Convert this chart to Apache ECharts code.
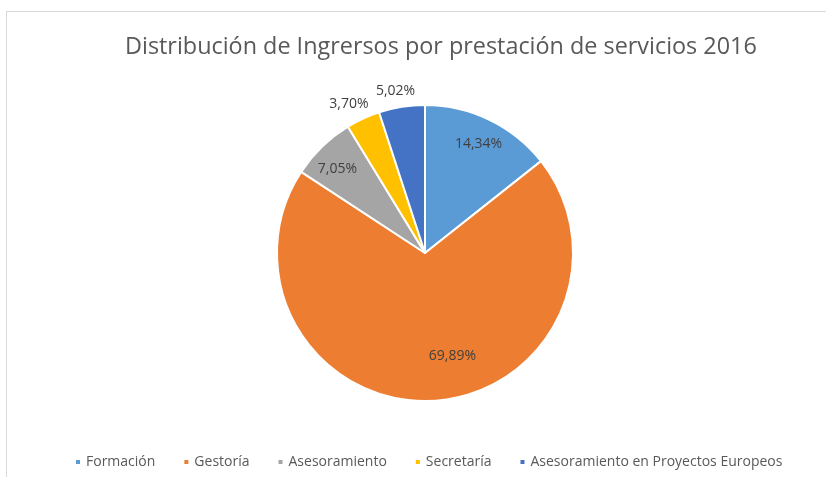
<!DOCTYPE html>
<html>
<head>
<meta charset="utf-8">
<script src="https://cdn.jsdelivr.net/npm/echarts@6/dist/echarts.min.js"></script>
<style>
  html, body { margin: 0; padding: 0; background: #fff; }
  #frame { position: absolute; left: 6px; top: 11px; width: 830px; height: 480px; border-left: 1px solid #d9d9d9; border-top: 1px solid #d9d9d9; }
  #chart { width: 826px; height: 477px; }
</style>
</head>
<body>
<div id="frame"></div>
<div id="chart"></div>
<script>
const titleText = 'Distribución de Ingrersos por prestación de servicios 2016'
const categories = ['Formación', 'Gestoría', 'Asesoramiento', 'Secretaría', 'Asesoramiento en Proyectos Europeos']
const values = [14.34, 69.89, 7.05, 3.70, 5.02]
const colors = ['#5B9BD5', '#ED7D31', '#A5A5A5', '#FFC000', '#4472C4']
const outsideLabels = ['Secretaría', 'Asesoramiento en Proyectos Europeos']
// small nudges so the labels sit where Excel's best-fit put them
const labelNudge = [[20, -40], [24, 26], [-34, -29], [15, -15], [14, -12]]

const font = 'Open Sans'
const chart = echarts.init(document.getElementById('chart'))

chart.setOption({
  animation: false,
  title: {
    text: titleText,
    left: 120,
    top: 31,
    textStyle: { fontFamily: font, fontSize: 23.4, fontWeight: 'normal', color: '#595959' }
  },
  legend: {
    bottom: 3,
    left: 69,
    itemWidth: 6,
    itemHeight: 6,
    itemGap: 27,
    icon: 'rect',
    textStyle: { fontFamily: font, fontSize: 14, color: '#595959' },
    data: categories
  },
  series: [{
    type: 'pie',
    center: [425, 253],
    radius: 148,
    startAngle: 90,
    clockwise: true,
    itemStyle: { borderColor: '#fff', borderWidth: 2 },
    label: {
      position: 'inside',
      fontFamily: font,
      fontSize: 14,
      color: '#404040',
      formatter: p => p.value.toFixed(2).replace('.', ',') + '%'
    },
    labelLine: { show: false, length: 4, length2: 0 },
    labelLayout: p => ({ dx: labelNudge[p.dataIndex][0], dy: labelNudge[p.dataIndex][1] }),
    emphasis: { disabled: true },
    data: categories.map((name, i) => ({
      name,
      value: values[i],
      itemStyle: { color: colors[i] },
      label: outsideLabels.includes(name) ? { position: 'outside', distanceToLabelLine: 0 } : {}
    }))
  }]
})
</script>
</body>
</html>
